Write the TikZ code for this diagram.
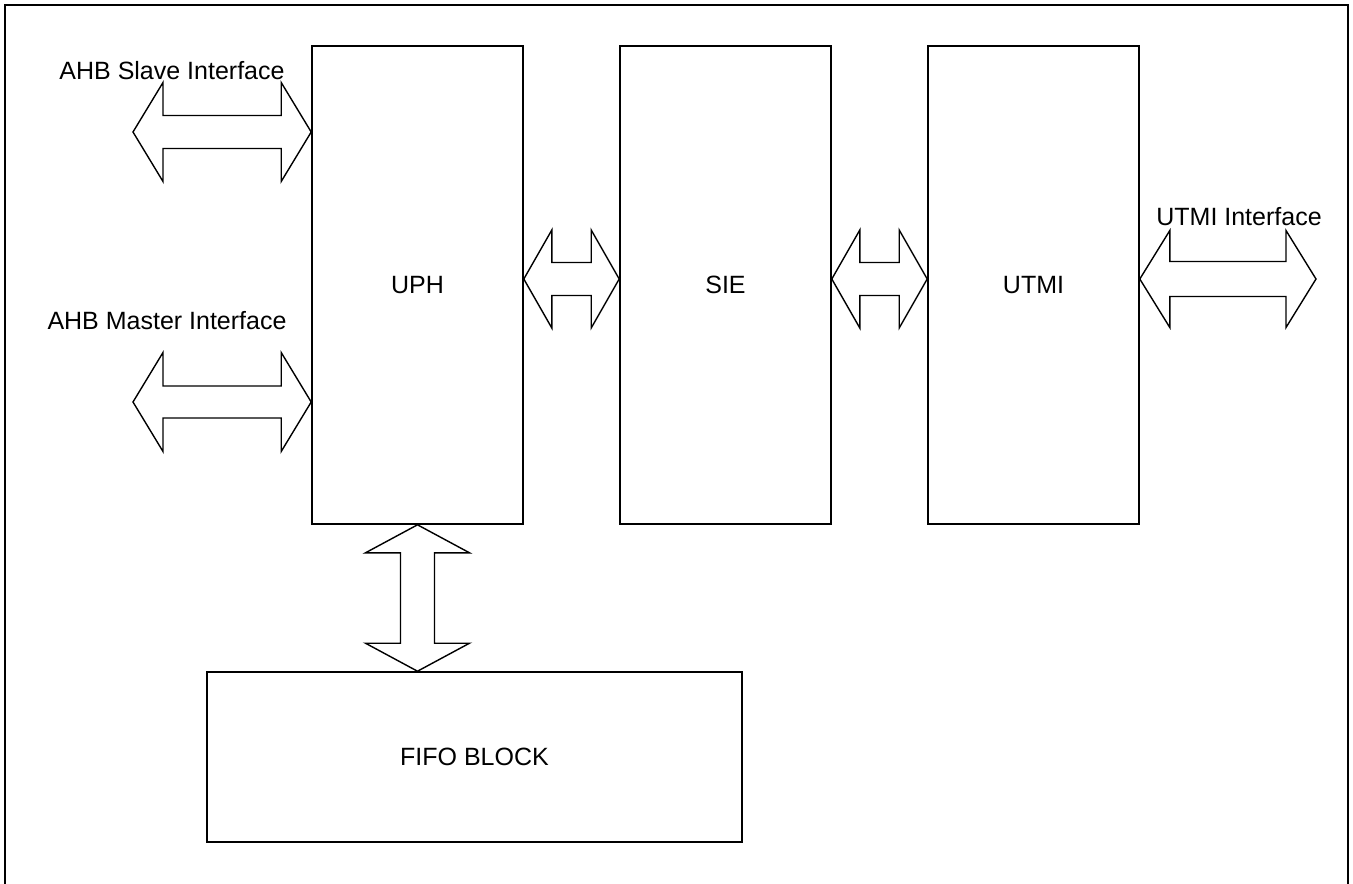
\documentclass[tikz,border=0pt]{standalone}
\usepackage{fontspec}
\setmainfont{Liberation Sans}
\usetikzlibrary{calc}
\begin{document}
\begin{tikzpicture}[x=1pt,y=-1pt,
  blockbox/.style={draw,line width=1.6pt,minimum width=#1,inner sep=0pt,font=\fontsize{25}{29}\selectfont},
  lbl/.style={anchor=base,inner sep=0pt,font=\fontsize{25}{29}\selectfont},
  barrow/.style={draw,line width=1.4pt,line join=miter,fill=white}]
\useasboundingbox (0,0) rectangle (1353,884);
% outer frame (open at the bottom edge of the page)
\draw[line width=2pt] (5,890) -- (5,5) -- (1348,5) -- (1348,890);

% blocks
\node[blockbox=211pt,minimum height=478pt] (uph)  at (417.5,285) {UPH};
\node[blockbox=211pt,minimum height=478pt] (sie)  at (725.5,285) {SIE};
\node[blockbox=211pt,minimum height=478pt] (utmi) at (1033.5,285) {UTMI};
\node[blockbox=535pt,minimum height=170pt] (fifo) at (474.5,757) {FIFO BLOCK};

% labels
\node[lbl] (lslave)  at (172,79)  {AHB Slave Interface};
\node[lbl] (lmaster) at (167,329) {AHB Master Interface};
\node[lbl] (lutmi)   at (1239,225) {UTMI Interface};

% free ends
\coordinate (slaveL)  at (133,132);
\coordinate (masterL) at (133,402);
\coordinate (utmiR)   at (1316,279);

% horizontal double block arrow: #1 left point, #2 right point, head len, head half, shaft half
\newcommand\hbarrow[5]{%
  \path let \p1=#1, \p2=#2 in
    [barrow] (\x1,\y1) -- (\x1+#3,\y1-#4) -- (\x1+#3,\y1-#5) -- (\x2-#3,\y1-#5)
    -- (\x2-#3,\y1-#4) -- (\x2,\y1) -- (\x2-#3,\y1+#4) -- (\x2-#3,\y1+#5)
    -- (\x1+#3,\y1+#5) -- (\x1+#3,\y1+#4) -- cycle;}

\hbarrow{(slaveL)}{(uph.west)}{30pt}{49.5pt}{16.5pt}
\hbarrow{(masterL)}{(uph.west)}{30pt}{49.5pt}{16pt}
\hbarrow{($(uph.east)+(0,-6)$)}{(sie.west)}{28pt}{49pt}{16.5pt}
\hbarrow{($(sie.east)+(0,-6)$)}{(utmi.west)}{28pt}{49pt}{16.5pt}
\hbarrow{($(utmi.east)+(0,-6)$)}{(utmiR)}{30pt}{48.5pt}{17.5pt}

% vertical double block arrow UPH -- FIFO (let-coordinates are in page pt, y upward)
\path let \p1=(uph.south), \p2=(fifo.north) in
  [barrow] (\x1,\y1) -- (\x1+52pt,\y1-28pt) -- (\x1+17pt,\y1-28pt) -- (\x1+17pt,\y2+28pt)
  -- (\x1+52pt,\y2+28pt) -- (\x1,\y2) -- (\x1-52pt,\y2+28pt) -- (\x1-17pt,\y2+28pt)
  -- (\x1-17pt,\y1-28pt) -- (\x1-52pt,\y1-28pt) -- cycle;
\end{tikzpicture}
\end{document}
